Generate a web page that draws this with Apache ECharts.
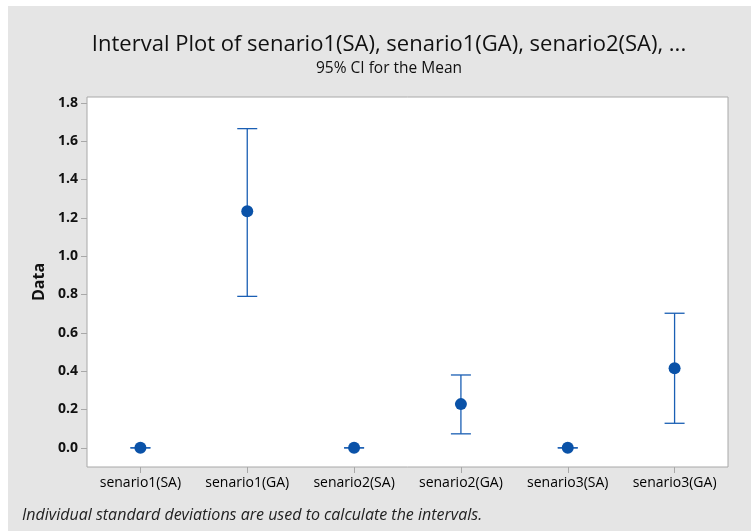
<!DOCTYPE html>
<html>
<head>
<meta charset="utf-8">
<script src="https://cdn.jsdelivr.net/npm/echarts@6/dist/echarts.min.js"></script>
<style>
  html, body { margin: 0; padding: 0; background: #fff; }
  #chart { width: 751px; height: 531px; }
</style>
</head>
<body>
<div id="chart"></div>
<script>
  const categories = ['senario1(SA)', 'senario1(GA)', 'senario2(SA)', 'senario2(GA)', 'senario3(SA)', 'senario3(GA)']
  const means = [0.0, 1.234, 0.0, 0.228, 0.0, 0.415]
  const lower = [0.0, 0.79, 0.0, 0.073, 0.0, 0.128]
  const upper = [0.0, 1.665, 0.0, 0.38, 0.0, 0.702]
  const yTicks = [0, 0.2, 0.4, 0.6, 0.8, 1.0, 1.2, 1.4, 1.6, 1.8]

  const ciData = categories.map((c, i) => [i, lower[i], upper[i]])
  const meanData = categories.map((c, i) => [i, means[i]])

  const blue = '#1a5fb4'
  const font = '"Open Sans", "Noto Sans", sans-serif'

  const chart = echarts.init(document.getElementById('chart'), null, { renderer: 'canvas' })

  chart.setOption({
    backgroundColor: '#fff',
    animation: false,
    graphic: [{
      type: 'rect', left: 8, top: 6, z: -10,
      shape: { width: 743, height: 525 },
      style: { fill: '#e5e5e5' }
    }, {
      type: 'text', left: 22, top: 507,
      style: { text: 'Individual standard deviations are used to calculate the intervals.',
        font: 'italic 16px ' + font, fill: '#222' }
    }],
    title: {
      text: 'Interval Plot of senario1(SA), senario1(GA), senario2(SA), ...',
      subtext: '95% CI for the Mean',
      left: 384, top: 29, textAlign: 'center', itemGap: 5,
      textStyle: { fontFamily: font, fontSize: 22, fontWeight: 'normal', color: '#111' },
      subtextStyle: { fontFamily: font, fontSize: 15.5, color: '#111' }
    },
    grid: { left: 87, right: 23, top: 97, bottom: 64, show: true,
      backgroundColor: '#fff', borderColor: '#a8a8a8', borderWidth: 1 },
    xAxis: {
      type: 'category', data: categories, boundaryGap: true,
      axisLine: { show: false, onZero: false },
      axisTick: { show: true, alignWithLabel: true, interval: 0, length: 6, lineStyle: { color: '#a8a8a8' } },
      axisLabel: { color: '#000', fontFamily: font, fontSize: 14, margin: 9, interval: 0 }
    },
    yAxis: {
      type: 'value', min: -0.1, max: 1.83,
      name: 'Data', nameLocation: 'middle', nameGap: 39,
      nameTextStyle: { fontFamily: font, fontSize: 16, fontWeight: 'bold', color: '#111' },
      axisLine: { show: false },
      splitLine: { show: false },
      axisTick: { show: true, length: 6, customValues: yTicks, lineStyle: { color: '#a8a8a8' } },
      axisLabel: { color: '#111', fontFamily: font, fontSize: 14, fontWeight: 'bold', margin: 9,
        customValues: yTicks, formatter: v => v.toFixed(1) }
    },
    series: [{
      type: 'custom',
      data: ciData,
      z: 2,
      renderItem: (params, api) => {
        const x = api.value(0)
        const lo = api.coord([x, api.value(1)])
        const hi = api.coord([x, api.value(2)])
        const half = 10
        const style = { stroke: blue, lineWidth: 1.3, fill: null }
        return {
          type: 'group',
          children: [
            { type: 'line', shape: { x1: lo[0], y1: lo[1], x2: hi[0], y2: hi[1] }, style },
            { type: 'line', shape: { x1: lo[0] - half, y1: lo[1], x2: lo[0] + half, y2: lo[1] }, style },
            { type: 'line', shape: { x1: hi[0] - half, y1: hi[1], x2: hi[0] + half, y2: hi[1] }, style }
          ]
        }
      }
    }, {
      type: 'scatter',
      data: meanData,
      symbol: 'circle',
      symbolSize: 12,
      z: 3,
      itemStyle: { color: '#0a52a8', opacity: 1 }
    }]
  })
</script>
</body>
</html>
